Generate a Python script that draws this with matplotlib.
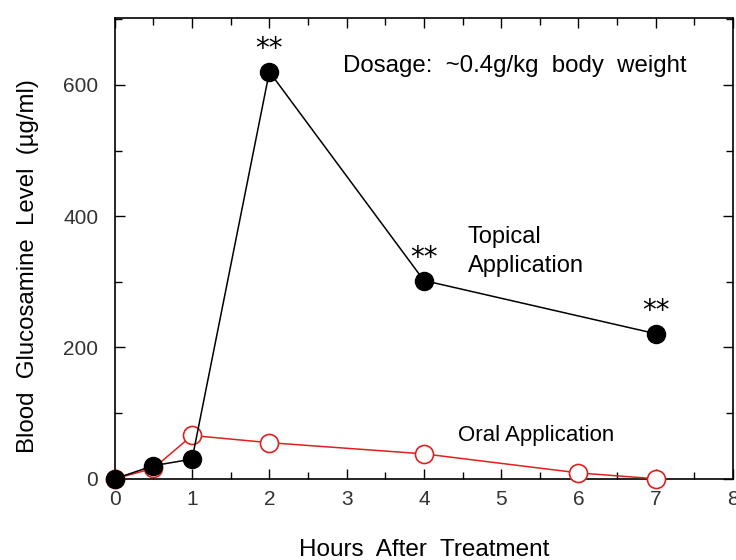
import numpy as np
import matplotlib.pyplot as plt
from matplotlib.ticker import MultipleLocator

plt.rcParams['font.family'] = ['Liberation Sans', 'DejaVu Sans']

# data
topical_hours = [0, 0.5, 1, 2, 4, 7]
topical_level = [0, 20, 30, 620, 302, 221]
oral_hours = [0, 0.5, 1, 2, 4, 6, 7]
oral_level = [0, 16, 66, 55, 38, 9, 0]
star_hours = [2, 4, 7]
star_level = [620, 302, 221]

fig = plt.figure(figsize=(7.36, 5.6), dpi=100)
ax = fig.add_axes([0.156, 0.145, 0.84, 0.823])

ax.plot(oral_hours, oral_level, color='#e02020', lw=1.1, marker='o', ms=13,
        mfc='white', mec='#e02020', mew=1.2, clip_on=False, zorder=3)
ax.plot(topical_hours, topical_level, color='black', lw=1.1, marker='o', ms=13,
        mfc='black', mec='black', clip_on=False, zorder=4)

for h, v in zip(star_hours, star_level):
    ax.annotate('**', (h, v), xytext=(0, 6), textcoords='offset points',
                ha='center', va='bottom', fontsize=20, family='DejaVu Sans')

ax.text(2.95, 629, 'Dosage:  ~0.4g/kg  body  weight', fontsize=17.3, va='center')
ax.text(4.57, 368, 'Topical', fontsize=17, va='center')
ax.text(4.57, 324, 'Application', fontsize=17, va='center')
ax.text(4.44, 66, 'Oral Application', fontsize=16, va='center')

ax.set_xlim(0, 8)
ax.set_ylim(0, 702)
ax.set_xticks(range(0, 9))
ax.set_yticks([0, 200, 400, 600])
ax.xaxis.set_minor_locator(MultipleLocator(0.5))
ax.yaxis.set_minor_locator(MultipleLocator(100))
ax.tick_params(which='both', direction='in', top=True, right=True,
               labelsize=15, labelcolor='#333333', width=1)
ax.tick_params(which='major', length=7)
ax.tick_params(which='minor', length=5)
ax.tick_params(axis='x', pad=8)
ax.tick_params(axis='y', pad=12)
for s in ax.spines.values():
    s.set_linewidth(1.2)

ax.set_xlabel('Hours  After  Treatment', fontsize=17.5, labelpad=22)
ax.set_ylabel('Blood  Glucosamine  Level  (µg/ml)', fontsize=17.3)
ax.yaxis.set_label_coords(-0.122, 0.462)

plt.savefig('out.png', dpi=100)
